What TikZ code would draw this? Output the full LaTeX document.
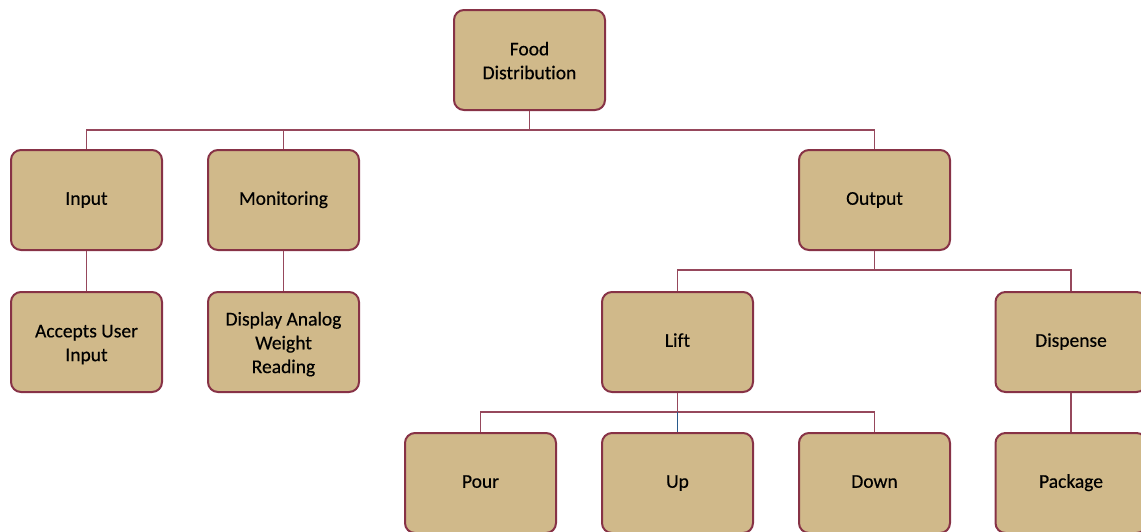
\documentclass[tikz,border=0pt]{standalone}
\usepackage{fontspec}
\setmainfont[Ligatures=NoCommon,FakeBold=0.4]{Carlito}
\definecolor{boxfill}{RGB}{208,185,138}
\definecolor{boxline}{RGB}{135,50,70}
\definecolor{conline}{RGB}{150,72,92}
\definecolor{blueline}{RGB}{40,90,140}
\newcommand{\mlt}[1]{\raisebox{-2.5pt}[\height][\depth]{\begin{tabular}{@{}c@{}}#1\end{tabular}}}
\tikzset{
  box/.style={draw=boxline, line width=2pt, fill=boxfill, rounded corners=10pt,
    minimum width=151pt, minimum height=100pt, inner sep=2pt,
    align=center, font=\fontsize{19.5}{23.8}\selectfont,
    execute at begin node={\strut}, execute at end node={\strut}},
  con/.style={draw=conline, line width=1.5pt},
  conblue/.style={draw=blueline, line width=1.5pt}
}
\begin{document}
\begin{tikzpicture}[x=1pt,y=-1pt]
\useasboundingbox (0,0) rectangle (1141,531);
\begin{scope}
\clip (0,0) rectangle (1141,531);
\node[box] (food) at (529.5,60) {\mlt{Food\\Distribution}};
\node[box] (input) at (86.5,200) {Input};
\node[box] (monitor) at (283.5,200) {Monitoring};
\node[box] (output) at (874.5,200) {Output};
\node[box] (accepts) at (86.5,342) {\mlt{Accepts User\\Input}};
\node[box] (display) at (283.5,342) {\mlt{Display Analog\\Weight\\Reading}};
\node[box] (lift) at (677.5,342) {Lift};
\node[box] (dispense) at (1071,342) {Dispense};
\node[box] (pour) at (480.5,483) {Pour};
\node[box] (up) at (677.5,483) {Up};
\node[box] (down) at (874.5,483) {Down};
\node[box] (package) at (1071,483) {Package};
\coordinate (bus1) at (529.5,130);
\coordinate (bus2) at (874.5,270);
\coordinate (bus3) at (677.5,412);
% level 1
\draw[con] (food.south) -- (bus1);
\draw[con] (bus1) -| (input.north);
\draw[con] (bus1) -| (monitor.north);
\draw[con] (bus1) -| (output.north);
% level 2
\draw[con] (input.south) -- (accepts.north);
\draw[con] (monitor.south) -- (display.north);
\draw[con] (output.south) -- (bus2);
\draw[con] (bus2) -| (lift.north);
\draw[con] (bus2) -| (dispense.north);
% level 3
\draw[con] (lift.south) -- (bus3);
\draw[con] (bus3) -| (pour.north);
\draw[con] (bus3) -| (down.north);
\draw[conblue] (bus3) -- (up.north);
\draw[con] (dispense.south) -- (package.north);
\end{scope}
\end{tikzpicture}
\end{document}
